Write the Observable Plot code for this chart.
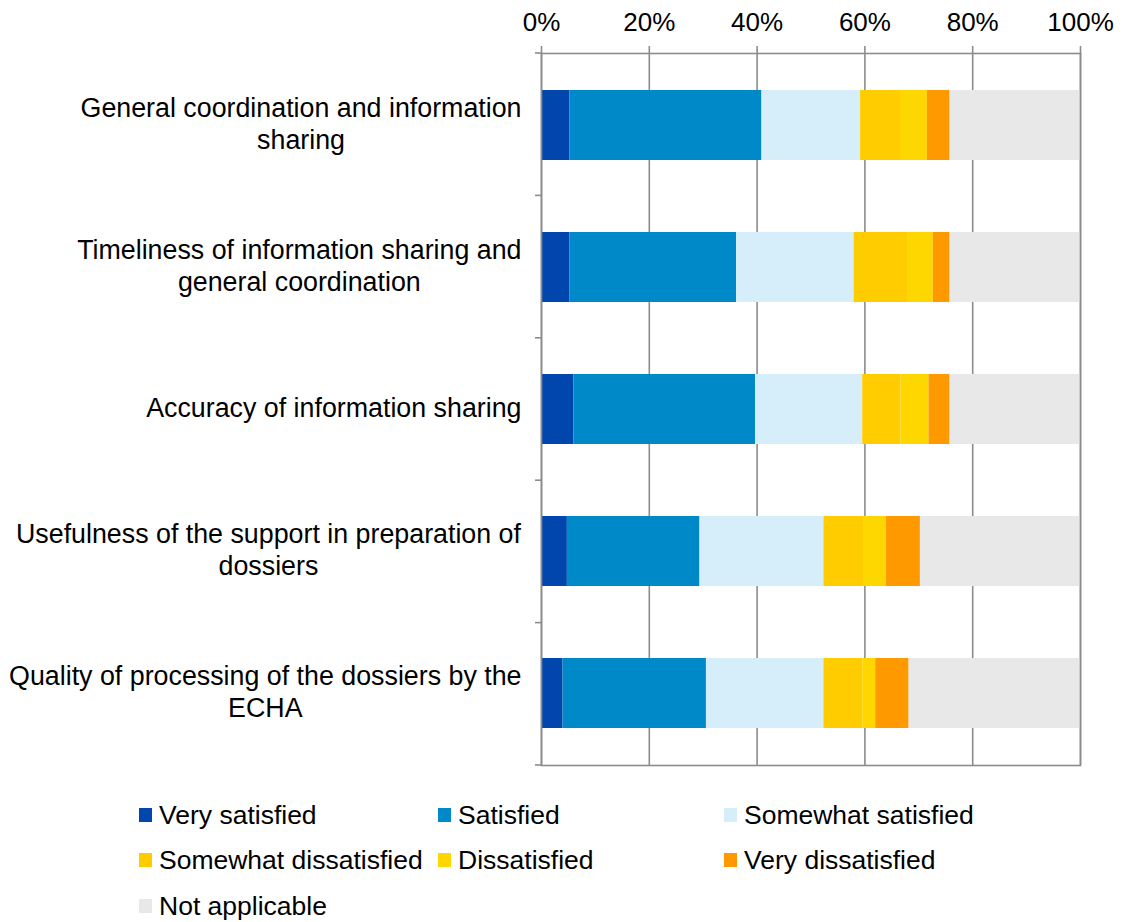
<!DOCTYPE html>
<html>
<head>
<meta charset="utf-8">
<script src="https://cdn.jsdelivr.net/npm/d3@7"></script>
<script src="https://cdn.jsdelivr.net/npm/@observablehq/plot@0.6"></script>
<style>
  html, body { margin: 0; padding: 0; background: #fff; }
  body { width: 1126px; height: 922px; overflow: hidden; font-family: "Liberation Sans", Arial, sans-serif; }
  #legend { position: relative; height: 140px; font-size: 26.5px; color: #000; }
  .item { position: absolute; display: flex; align-items: center; white-space: nowrap; }
  .sw { width: 13px; height: 14px; margin-right: 7px; flex: none; }
</style>
</head>
<body>
<div id="chart"></div>
<div id="legend"></div>
<script>
// Categories (top to bottom) and their tick labels
const categories = [
  "General coordination and information sharing",
  "Timeliness of information sharing and general coordination",
  "Accuracy of information sharing",
  "Usefulness of the support in preparation of dossiers",
  "Quality of processing of the dossiers by the ECHA"
];
const tickLabels = [
  "General coordination and information\nsharing",
  "Timeliness of information sharing and\ngeneral coordination",
  "Accuracy of information sharing",
  "Usefulness of the support in preparation of\ndossiers",
  "Quality of processing of the dossiers by the\nECHA"
];

// Response levels and colours
const levels = ["Very satisfied", "Satisfied", "Somewhat satisfied", "Somewhat dissatisfied", "Dissatisfied", "Very dissatisfied", "Not applicable"];
const levelColors = ["#0046AD", "#0089C8", "#D6EEF9", "#FFCC00", "#FFD700", "#FF9900", "#E8E8E8"];

// Series values (% of respondents), one per category
const verySatisfied        = [5.3, 5.3, 6.0, 4.8, 4.0];
const satisfied            = [35.6, 30.9, 33.7, 24.6, 26.6];
const somewhatSatisfied    = [18.3, 21.8, 19.9, 23.0, 21.8];
const somewhatDissatisfied = [7.4, 9.9, 7.1, 7.5, 7.2];
const dissatisfied         = [5.0, 4.8, 5.2, 4.1, 2.4];
const veryDissatisfied     = [4.2, 3.1, 3.9, 6.3, 6.2];
const notApplicable        = [24.2, 24.2, 24.2, 29.7, 31.8];

const xTicks = [0, 20, 40, 60, 80, 100];

const series = [verySatisfied, satisfied, somewhatSatisfied, somewhatDissatisfied, dissatisfied, veryDissatisfied, notApplicable];
const data = [];
categories.forEach((c, i) => {
  levels.forEach((l, j) => data.push({category: c, level: l, value: series[j][i]}));
});

const gray = "#8c8c8c";

// Boundary ticks on the left axis (between categories)
function boundaryTicks(index, scales, values, dimensions) {
  const {marginTop, marginLeft, height, marginBottom} = dimensions;
  const n = categories.length;
  const inner = height - marginTop - marginBottom;
  const g = d3.create("svg:g");
  for (let k = 0; k <= n; k++) {
    const y = marginTop + k * inner / n;
    g.append("line")
      .attr("x1", marginLeft - 6).attr("x2", marginLeft)
      .attr("y1", y).attr("y2", y)
      .attr("stroke", gray).attr("stroke-width", 1.6);
  }
  return g.node();
}

const chart = Plot.plot({
  width: 1126,
  height: 775,
  marginTop: 53,
  marginBottom: 10,
  marginLeft: 541,
  marginRight: 46,
  style: {fontFamily: "'Liberation Sans', Arial, sans-serif", fontSize: "26px", color: "#000", background: "#fff"},
  x: {domain: [0, 100]},
  y: {domain: categories, paddingInner: 0.51, paddingOuter: 0.255},
  color: {domain: levels, range: levelColors},
  marks: [
    Plot.gridX(xTicks, {stroke: gray, strokeOpacity: 1, strokeWidth: 1.6}),
    Plot.barX(data, Plot.stackX({x: "value", y: "category", fill: "level"})),
    Plot.frame({stroke: gray, strokeWidth: 1.6}),
    boundaryTicks,
    Plot.axisX(xTicks, {anchor: "top", tickFormat: d => d + "%", tickSize: 8, tickPadding: 15, stroke: gray, strokeWidth: 1.6, label: null}),
    Plot.axisY({tickSize: 0, tickPadding: 20, textAnchor: "middle", lineHeight: 1.2, fontSize: "26.8px", dy: -3, tickFormat: d => tickLabels[categories.indexOf(d)], label: null})
  ]
});
document.getElementById("chart").appendChild(chart);

// Right-align each centred multi-line label block against the axis
chart.querySelectorAll('g[aria-label="y-axis tick label"] text').forEach(t => {
  const b = t.getBBox();
  const dx = -(b.x + b.width);
  const tr = t.getAttribute("transform") || "";
  t.setAttribute("transform", tr + ` translate(${dx},0)`);
});

// Legend
const legend = document.getElementById("legend");
const cols = [139, 438, 724];
const rowY = [40, 85, 131];
levels.forEach((l, i) => {
  const item = document.createElement("div");
  item.className = "item";
  item.style.left = cols[i % 3] + "px";
  item.style.top = (rowY[Math.floor(i / 3)] - 16) + "px";
  item.style.height = "32px";
  const sw = document.createElement("span");
  sw.className = "sw";
  sw.style.background = levelColors[i];
  const tx = document.createElement("span");
  tx.textContent = l;
  item.appendChild(sw);
  item.appendChild(tx);
  legend.appendChild(item);
});
</script>
</body>
</html>
